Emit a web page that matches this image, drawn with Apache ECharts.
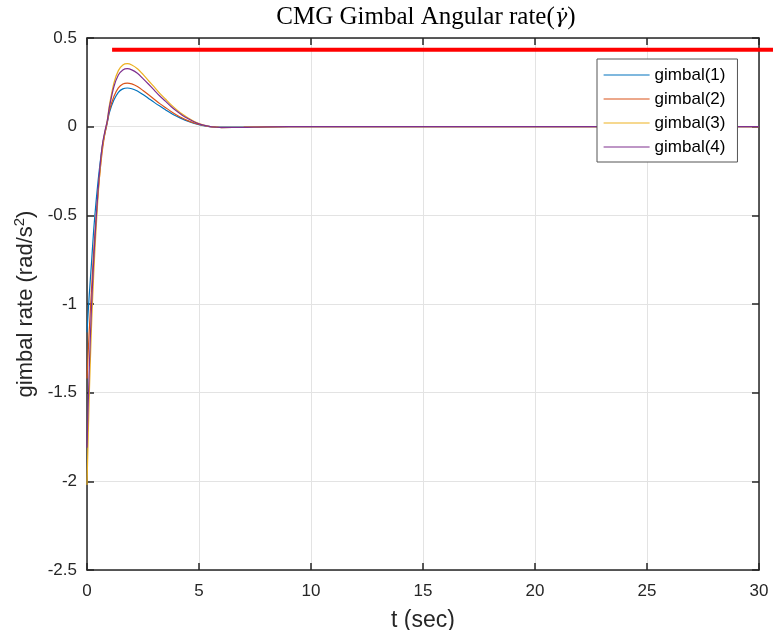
<!DOCTYPE html>
<html>
<head>
<meta charset="utf-8">
<script src="https://cdn.jsdelivr.net/npm/echarts@6/dist/echarts.min.js"></script>
<style>
  html, body { margin: 0; padding: 0; background: #fff; }
  #main { width: 773px; height: 630px; }
</style>
</head>
<body>
<div id="main"></div>
<script>
// time samples (sec)
var t = [0, 0.1, 0.2, 0.3, 0.4, 0.5, 0.6, 0.7, 0.8, 0.9, 1.0, 1.2, 1.4, 1.6, 1.8,
         2.0, 2.25, 2.5, 2.75, 3.0, 3.25, 3.5, 3.75, 4.0, 4.25, 4.5, 4.75, 5.0, 5.25, 5.5, 5.75,
         6, 7, 8, 10, 15, 20, 25, 30];

// gimbal rates
var gimbal1 = [-1.16, -0.95, -0.77, -0.58, -0.43, -0.30, -0.19, -0.10, -0.035, 0.02, 0.08, 0.15, 0.194, 0.213, 0.218,
               0.214, 0.201, 0.181, 0.159, 0.137, 0.116, 0.096, 0.076, 0.059, 0.044, 0.031, 0.020, 0.011, 0.004, 0, -0.002,
               -0.003, -0.003, -0.001, 0, 0, 0, 0, 0];
var gimbal2 = [-1.42, -1.15, -0.92, -0.70, -0.52, -0.36, -0.23, -0.12, -0.04, 0.02, 0.09, 0.17, 0.219, 0.241, 0.246,
               0.241, 0.226, 0.204, 0.180, 0.155, 0.130, 0.108, 0.086, 0.066, 0.049, 0.034, 0.022, 0.012, 0.005, 0, -0.002,
               -0.004, -0.003, -0.001, 0, 0, 0, 0, 0];
var gimbal3 = [-2.02, -1.52, -1.13, -0.83, -0.59, -0.38, -0.22, -0.10, -0.03, 0.03, 0.12, 0.245, 0.316, 0.348, 0.355,
               0.348, 0.327, 0.295, 0.259, 0.224, 0.188, 0.156, 0.124, 0.096, 0.071, 0.050, 0.032, 0.018, 0.007, 0, -0.003,
               -0.005, -0.004, -0.001, 0, 0, 0, 0, 0];
var gimbal4 = [-1.81, -1.37, -1.02, -0.75, -0.54, -0.35, -0.20, -0.09, -0.025, 0.03, 0.11, 0.225, 0.291, 0.32, 0.327,
               0.320, 0.301, 0.271, 0.239, 0.206, 0.173, 0.144, 0.114, 0.088, 0.065, 0.046, 0.029, 0.016, 0.007, 0, -0.003,
               -0.005, -0.004, -0.001, 0, 0, 0, 0, 0];

// red reference line (runs past the right border)
var limitT = [1.12, 30.7];
var limitV = [0.434, 0.434];

var names = ['gimbal(1)', 'gimbal(2)', 'gimbal(3)', 'gimbal(4)'];
var colors = ['#0072BD', '#D95319', '#EDB120', '#7E2F8E'];
var values = [gimbal1, gimbal2, gimbal3, gimbal4];

function pairs(xs, ys) {
    return xs.map(function (x, i) { return [x, ys[i]]; });
}

var axisColor = '#262626';
var font = 'Liberation Sans';

var series = values.map(function (v, i) {
    return {
        name: names[i],
        type: 'line',
        data: pairs(t, v),
        smooth: 0.25,
        symbol: 'none',
        color: colors[i],
        lineStyle: { width: 1.2, color: colors[i] },
        animation: false
    };
});

var chart = echarts.init(document.getElementById('main'));
chart.setOption({
    backgroundColor: '#fff',
    title: {
        text: '{n|CMG Gimbal Angular rate(}{g|γ̇}{n|)}',
        left: 421,
        top: 0,
        textAlign: 'center',
        textStyle: {
            rich: {
                n: { fontFamily: 'Liberation Serif', fontSize: 25, fontWeight: 'normal', color: '#000' },
                g: { fontFamily: 'DejaVu Serif', fontSize: 21, fontStyle: 'italic', fontWeight: 'normal', color: '#000' }
            }
        }
    },
    grid: { left: 87, right: 14, top: 38, bottom: 60, outerBoundsMode: 'none', containLabel: false },
    legend: {
        data: names,
        orient: 'vertical',
        left: 597,
        top: 59,
        itemWidth: 46,
        itemHeight: 10,
        itemGap: 4,
        padding: [6, 12, 5, 6],
        backgroundColor: '#fff',
        borderColor: '#555',
        borderWidth: 1,
        itemStyle: { opacity: 0 },
        lineStyle: { width: 1.2 },
        textStyle: { fontFamily: font, fontSize: 17, color: '#000', lineHeight: 20 }
    },
    xAxis: [{
        type: 'value',
        min: 0, max: 30, interval: 5,
        name: 't (sec)',
        nameLocation: 'middle',
        nameGap: 39,
        nameTextStyle: { fontFamily: font, fontSize: 23, color: axisColor },
        axisLine: { onZero: false, lineStyle: { color: axisColor, width: 1.5 } },
        axisTick: { inside: true, length: 7, lineStyle: { color: axisColor, width: 1.5 } },
        axisLabel: { fontFamily: font, fontSize: 17, color: axisColor, margin: 13 },
        splitLine: { show: true, lineStyle: { color: '#e3e3e3', width: 1 } }
    }, {
        type: 'value',
        position: 'top',
        min: 0, max: 30, interval: 5,
        axisLine: { onZero: false, lineStyle: { color: axisColor, width: 1.5 } },
        axisTick: { inside: true, length: 7, lineStyle: { color: axisColor, width: 1.5 } },
        axisLabel: { show: false },
        splitLine: { show: false }
    }],
    yAxis: [{
        type: 'value',
        min: -2.5, max: 0.5, interval: 0.5,
        name: '{a|gimbal rate (rad/s}{s|2}{a|)}',
        nameLocation: 'middle',
        nameGap: 48,
        nameTextStyle: {
            rich: {
                a: { fontFamily: font, fontSize: 22, color: axisColor },
                s: { fontFamily: font, fontSize: 15, color: axisColor, verticalAlign: 'top', padding: [0, 0, 11, 0] }
            }
        },
        axisLine: { onZero: false, lineStyle: { color: axisColor, width: 1.5 } },
        axisTick: { inside: true, length: 7, lineStyle: { color: axisColor, width: 1.5 } },
        axisLabel: { fontFamily: font, fontSize: 17, color: axisColor, margin: 10 },
        splitLine: { show: true, lineStyle: { color: '#e3e3e3', width: 1 } }
    }, {
        type: 'value',
        position: 'right',
        min: -2.5, max: 0.5, interval: 0.5,
        axisLine: { onZero: false, lineStyle: { color: axisColor, width: 1.5 } },
        axisTick: { inside: true, length: 7, lineStyle: { color: axisColor, width: 1.5 } },
        axisLabel: { show: false },
        splitLine: { show: false }
    }],
    series: series
});

// red line: positioned through the chart's own scale, drawn unclipped
var p0 = chart.convertToPixel({ gridIndex: 0 }, [limitT[0], limitV[0]]);
var p1 = chart.convertToPixel({ gridIndex: 0 }, [limitT[1], limitV[1]]);
chart.setOption({
    graphic: [{
        type: 'line',
        shape: { x1: p0[0], y1: p0[1], x2: p1[0], y2: p1[1] },
        style: { stroke: '#ff0000', lineWidth: 4 },
        z: 10
    }]
});
</script>
</body>
</html>
